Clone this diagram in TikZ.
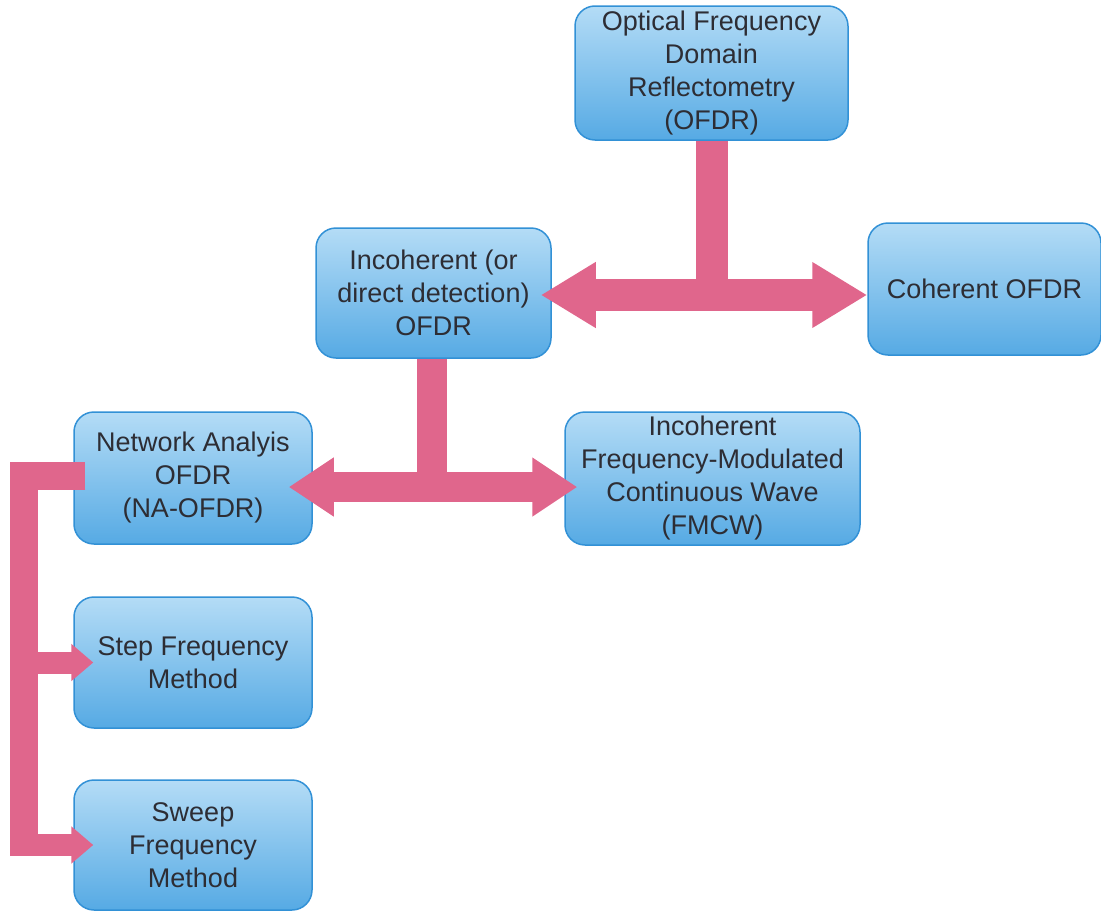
\documentclass[tikz,border=0pt]{standalone}
\usepackage{fontspec}
\setmainfont{Liberation Sans}
\usetikzlibrary{arrows.meta}
\definecolor{boxtop}{RGB}{180,220,246}
\definecolor{boxbot}{RGB}{86,170,228}
\definecolor{boxline}{RGB}{50,145,214}
\definecolor{barpink}{RGB}{224,102,140}
\definecolor{txt}{RGB}{45,45,52}

\begin{document}
\begin{tikzpicture}[x=1pt, y=-1pt,
	block/.style={draw=boxline, line width=1.5pt, rounded corners=20pt, top color=boxtop, bottom color=boxbot, align=center, text=txt, font=\fontsize{27}{33}\selectfont, inner sep=0pt},
	bigbar/.style={draw=barpink, line width=32pt},
	smallbar/.style={draw=barpink, line width=28pt, line join=miter},
	branch/.style={draw=barpink, line width=22pt, -{Triangle[width=36pt,length=22pt]}}]
	\useasboundingbox (0,0) rectangle (1101,913);
	% boxes
	\node [block, minimum width=273, minimum height=134] (ofdr) at (711.5,73) {Optical Frequency\\Domain\\Reflectometry\\(OFDR)};
	\node [block, minimum width=235, minimum height=130] (incoh) at (433.5,293) {Incoherent (or\\direct detection)\\OFDR};
	\node [block, minimum width=233, minimum height=132] (coh) at (984.5,289) {Coherent OFDR};
	\node [block, minimum width=238, minimum height=132] (na) at (193,478) {Network Analyis\\OFDR\\(NA-OFDR)};
	\node [block, minimum width=295, minimum height=133] (fmcw) at (712.5,478.5) {Incoherent\\Frequency-Modulated\\Continuous Wave\\(FMCW)};
	\node [block, minimum width=238, minimum height=131] (step) at (193,662.5) {Step Frequency\\Method};
	\node [block, minimum width=238, minimum height=130] (sweep) at (193,845) {Sweep\\Frequency\\Method};
	% arrows
	\coordinate (j1) at (711.5,295);
	\draw [bigbar] (ofdr.south) -- (j1);
	\draw [bigbar, {Triangle[width=62pt,length=55pt]}-{Triangle[width=62pt,length=55pt]}] ([xshift=-11pt]incoh.east |- j1) -- (coh.west |- j1);
	\coordinate (j2) at (432,487);
	\draw [bigbar, line width=30pt] (incoh.south -| j2) -- (j2);
	\draw [bigbar, line width=30pt, {Triangle[width=56pt,length=45pt]}-{Triangle[width=56pt,length=45pt]}] ([xshift=-24pt]na.east |- j2) -- ([xshift=13pt]fmcw.west |- j2);
	\coordinate (j3) at (24,476);
	\coordinate (j4) at (24,856);
	\draw [smallbar] ([xshift=12pt]na.west |- j3) -| (j4);
	\draw [branch] (j3 |- step.west) -- ([xshift=20pt]step.west);
	\draw [branch] (j3 |- sweep.west) -- ([xshift=20pt]sweep.west);
\end{tikzpicture}
\end{document}
